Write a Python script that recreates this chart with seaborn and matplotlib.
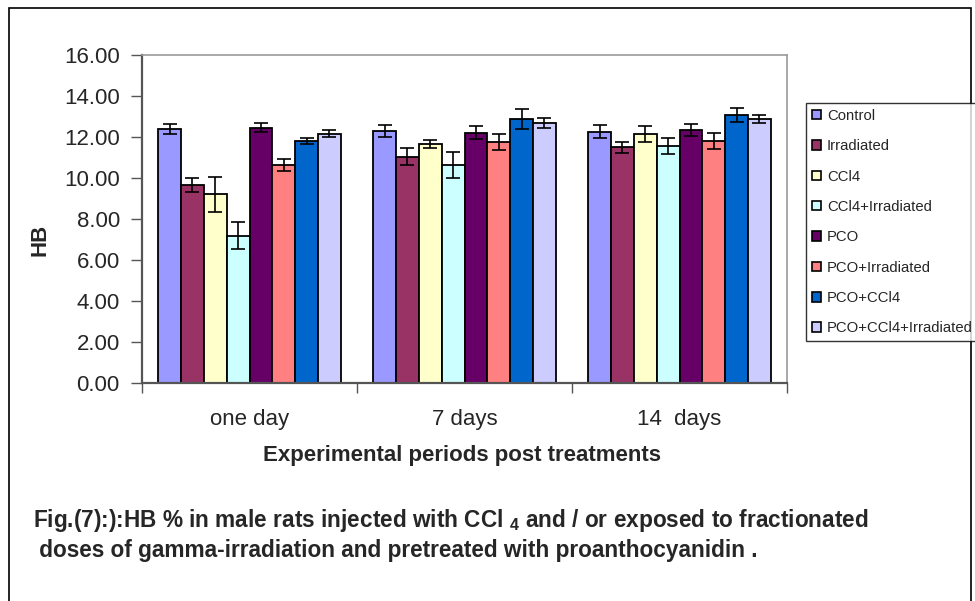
import matplotlib
matplotlib.use("Agg")
import matplotlib.pyplot as plt
import matplotlib.patches as mpatches
import seaborn as sns
import pandas as pd
import numpy as np

periods = ["one day", "7 days", "14  days"]
groups = ["Control", "Irradiated", "CCl4", "CCl4+Irradiated", "PCO",
          "PCO+Irradiated", "PCO+CCl4", "PCO+CCl4+Irradiated"]
colors = ["#9999FF", "#993366", "#FFFFCC", "#CCFFFF", "#660066",
          "#FF8080", "#0066CC", "#CCCCFF"]

# mean values per group, for each period
means = {
    "Control":             [12.40, 12.29, 12.26],
    "Irradiated":          [9.66, 11.04, 11.50],
    "CCl4":                [9.20, 11.66, 12.16],
    "CCl4+Irradiated":     [7.19, 10.63, 11.58],
    "PCO":                 [12.46, 12.21, 12.34],
    "PCO+Irradiated":      [10.63, 11.77, 11.79],
    "PCO+CCl4":            [11.80, 12.89, 13.06],
    "PCO+CCl4+Irradiated": [12.16, 12.70, 12.89],
}
errors = {
    "Control":             [0.23, 0.31, 0.32],
    "Irradiated":          [0.33, 0.42, 0.28],
    "CCl4":                [0.85, 0.19, 0.40],
    "CCl4+Irradiated":     [0.65, 0.63, 0.39],
    "PCO":                 [0.24, 0.33, 0.31],
    "PCO+Irradiated":      [0.29, 0.40, 0.39],
    "PCO+CCl4":            [0.15, 0.49, 0.35],
    "PCO+CCl4+Irradiated": [0.17, 0.25, 0.20],
}

rows = []
for g in groups:
    for p, m, e in zip(periods, means[g], errors[g]):
        rows.append({"period": p, "group": g, "value": m, "err": e})
df = pd.DataFrame(rows)

sns.set_style("white")
plt.rcParams["font.family"] = ["Liberation Sans", "DejaVu Sans"]
plt.rcParams["mathtext.default"] = "regular"

fig = plt.figure(figsize=(9.75, 6.01), dpi=100)
ax = fig.add_axes([142/975, 1-383/601, (787-142)/975, (383-55)/601])

sns.barplot(data=df, x="period", y="value", hue="group", order=periods,
            hue_order=groups, palette=colors, saturation=1, width=0.85, gap=0,
            edgecolor="black", linewidth=1.3, errorbar=None, ax=ax,
            legend=False)

for cont, g in zip(ax.containers, groups):
    xs = [b.get_x() + b.get_width()/2 for b in cont]
    ys = [b.get_height() for b in cont]
    ax.errorbar(xs, ys, yerr=errors[g], fmt="none", ecolor="black",
                elinewidth=1.2, capsize=5, capthick=1.2, zorder=5)

ax.set_ylim(0, 16)
ax.set_xlim(-0.5, 2.5)
ax.set_yticks(np.arange(0, 16.01, 2))
ax.set_yticklabels([f"{v:.2f}" for v in np.arange(0, 16.01, 2)], fontsize=16)
ax.tick_params(axis="y", direction="out", length=8, width=1, color="#555555",
               left=True, pad=8)
ax.set_xticks([0, 1, 2])
ax.set_xticklabels(periods, fontsize=16)
ax.set_xticks([-0.5, 0.5, 1.5, 2.5], minor=True)
ax.tick_params(axis="x", which="major", length=0, pad=19)
ax.tick_params(axis="x", which="minor", direction="out", length=7, width=1,
               color="#555555", bottom=True)
ax.set_xlabel("")
ax.set_ylabel("")
for s in ["left", "bottom"]:
    ax.spines[s].set_color("#555555")
    ax.spines[s].set_linewidth(1.6)
for s in ["top", "right"]:
    ax.spines[s].set_color("#999999")
    ax.spines[s].set_linewidth(1.2)
    ax.spines[s].set_visible(True)

fig.text(462/975, 1-455/601, "Experimental periods post treatments",
         ha="center", va="center", fontsize=16, fontweight="bold")
fig.text(40/975, 1-240/601, "HB", ha="center", va="center", rotation=90,
         fontsize=16, fontweight="bold")

handles = [mpatches.Patch(facecolor=c, edgecolor="black", linewidth=1.2)
           for c in colors]
leg = fig.legend(handles, groups, loc="upper left",
                 bbox_to_anchor=(806/975, 1-103/601), frameon=True,
                 fancybox=False, edgecolor="black", fontsize=10.7,
                 handlelength=0.6, handleheight=0.6, handletextpad=0.4,
                 labelspacing=1.1, borderpad=0.4, borderaxespad=0)
leg.get_frame().set_linewidth(1.0)

cap_font = ["Liberation Sans", "DejaVu Sans"]
fig.text(33/975, 1-521/601,
         "Fig.(7):):HB % in male rats injected with CCl $_4$ and / or exposed to fractionated",
         ha="left", va="center", fontsize=16.3, fontweight="bold", family=cap_font)
fig.text(33/975, 1-551/601,
         " doses of gamma-irradiation and pretreated with proanthocyanidin .",
         ha="left", va="center", fontsize=16.3, fontweight="bold", family=cap_font)

border = mpatches.Rectangle((9/975, -0.02), (971-9)/975, 1-8/601+0.02,
                            transform=fig.transFigure, fill=False,
                            edgecolor="black", linewidth=1.2, clip_on=False)
fig.patches.append(border)

fig.savefig("out.png", dpi=100)
